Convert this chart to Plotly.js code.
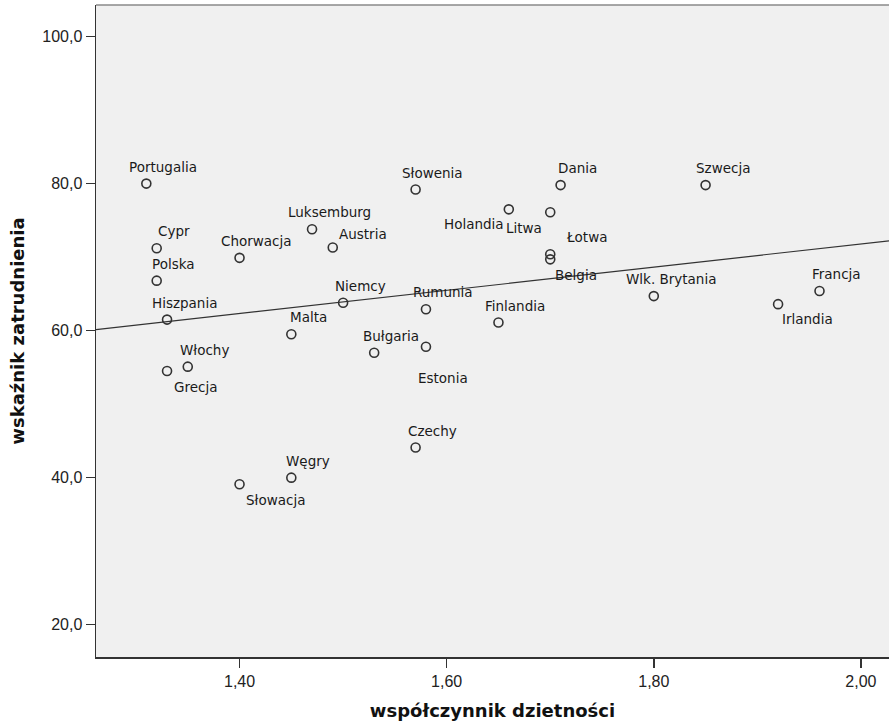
<!DOCTYPE html>
<html>
<head>
<meta charset="utf-8">
<script src="https://cdn.plot.ly/plotly-3.0.1.min.js"></script>
<style>
  html, body { margin: 0; padding: 0; background: #ffffff; }
  #chart { width: 889px; height: 726px; }
</style>
</head>
<body>
<div id="chart"></div>
<script>
// ---- data ----
const countries = ["Portugalia","Cypr","Polska","Hiszpania","Grecja","Włochy","Chorwacja","Słowacja",
  "Luksemburg","Austria","Malta","Węgry","Niemcy","Bułgaria","Słowenia","Czechy","Rumunia","Estonia",
  "Finlandia","Holandia","Litwa","Łotwa","Belgia","Dania","Wlk. Brytania","Szwecja","Irlandia","Francja"];
const fertility = [1.31,1.32,1.32,1.33,1.33,1.35,1.40,1.40,
  1.47,1.49,1.45,1.45,1.50,1.53,1.57,1.57,1.58,1.58,
  1.65,1.66,1.70,1.70,1.70,1.71,1.80,1.85,1.92,1.96];
const employment = [80.0,71.2,66.8,61.5,54.5,55.1,69.9,39.1,
  73.8,71.3,59.5,40.0,63.8,57.0,79.2,44.1,62.9,57.8,
  61.1,76.5,76.1,70.4,69.7,79.8,64.7,79.8,63.6,65.4];
const xTickVals = [1.40,1.60,1.80,2.00];
const xTickText = ["1,40","1,60","1,80","2,00"];
const yTickVals = [20,40,60,80,100];
const yTickText = ["20,0","40,0","60,0","80,0","100,0"];
const xTitle = "współczynnik dzietności";
const yTitle = "wskaźnik zatrudnienia";

// ---- layout / style settings ----
const xRange = [1.2614, 2.0271];
const yRange = [15.6, 104.3];
const labelFont = {family: "DejaVu Sans", size: 13.5, color: "#1a1a1a"};
const defaultShift = {dx: 17, dy: 17};
const labelShift = {
  "Estonia": {dx: 17, dy: -31},
  "Grecja": {dx: 28, dy: -16},
  "Słowacja": {dx: 36, dy: -16},
  "Belgia": {dx: 26, dy: -16},
  "Irlandia": {dx: 29, dy: -15},
  "Holandia": {dx: -35, dy: -15},
  "Litwa": {dx: -26, dy: -16},
  "Łotwa": {dx: 36, dy: 17},
  "Austria": {dx: 30, dy: 14}
};

// ---- linear regression (fit line) computed from the data ----
const n = fertility.length;
const mx = fertility.reduce((a,b)=>a+b,0)/n;
const my = employment.reduce((a,b)=>a+b,0)/n;
let sxy = 0, sxx = 0;
for (let i = 0; i < n; i++) { sxy += (fertility[i]-mx)*(employment[i]-my); sxx += (fertility[i]-mx)**2; }
const slope = sxy/sxx, intercept = my - slope*mx;
const fitX = xRange.slice();
const fitY = fitX.map(x => intercept + slope*x);

const traces = [
  {
    x: fitX, y: fitY, type: "scatter", mode: "lines",
    line: {color: "#333333", width: 1.2},
    hoverinfo: "skip", showlegend: false, cliponaxis: true
  },
  {
    x: fertility, y: employment, type: "scatter", mode: "markers",
    text: countries,
    marker: {symbol: "circle-open", size: 9, color: "#333333", line: {width: 1.6, color: "#333333"}},
    showlegend: false
  }
];

const annotations = countries.map((c, i) => {
  const s = labelShift[c] || defaultShift;
  return {
    x: fertility[i], y: employment[i], xref: "x", yref: "y",
    text: c, showarrow: false, xanchor: "center", yanchor: "middle",
    xshift: s.dx, yshift: s.dy, font: labelFont
  };
});

const layout = {
  width: 889, height: 726,
  margin: {l: 96, r: 0, t: 5, b: 69, pad: 0},
  paper_bgcolor: "#ffffff",
  plot_bgcolor: "#f0f0f0",
  showlegend: false,
  xaxis: {
    range: xRange, tickmode: "array", tickvals: xTickVals, ticktext: xTickText,
    showgrid: false, zeroline: false, showline: true, linecolor: "#333333", linewidth: 1.5,
    ticks: "outside", ticklen: 9, tickwidth: 1.5, tickcolor: "#333333",
    tickfont: {family: "Liberation Sans", size: 16, color: "#222222"},
    title: {text: xTitle, font: {family: "DejaVu Sans", size: 18, color: "#111111", weight: "bold"}, standoff: 15}
  },
  yaxis: {
    range: yRange, tickmode: "array", tickvals: yTickVals, ticktext: yTickText,
    showgrid: false, zeroline: false, showline: true, linecolor: "#333333", linewidth: 1.5,
    ticks: "outside", ticklen: 9, tickwidth: 1.5, tickcolor: "#333333",
    tickfont: {family: "Liberation Sans", size: 16, color: "#222222"},
    title: {text: yTitle, font: {family: "DejaVu Sans", size: 18, color: "#111111", weight: "bold"}, standoff: 13}
  },
  shapes: [
    {type: "line", xref: "paper", yref: "paper", x0: 0, x1: 1, y0: 1, y1: 1,
     line: {color: "#8a8a8a", width: 1.5}, layer: "above"}
  ],
  annotations: annotations
};

Plotly.newPlot("chart", traces, layout, {displayModeBar: false, staticPlot: true});
</script>
</body>
</html>
